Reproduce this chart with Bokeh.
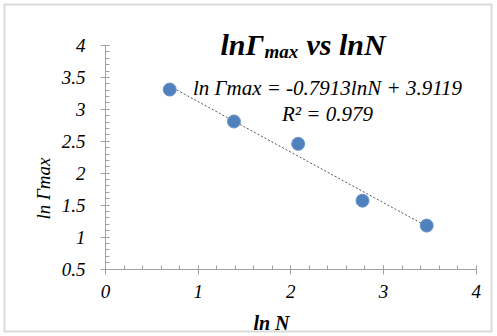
import numpy as np
from bokeh.plotting import figure
from bokeh.models import (Range1d, SingleIntervalTicker, NumeralTickFormatter,
                          Label, BoxAnnotation, ColumnDataSource, LinearAxis)
from bokeh.embed import file_html
from bokeh.resources import INLINE

# ---- data ----
ln_n = [0.693, 1.386, 2.079, 2.773, 3.466]
ln_gamma_max = [3.31, 2.81, 2.46, 1.57, 1.18]
fit_slope = -0.7913
fit_intercept = 3.9119
r_squared = 0.979
x_axis_bounds = (0, 4)
y_axis_bounds = (0.5, 4)
x_tick_interval = 1
y_tick_interval = 0.5

SERIF = "Liberation Serif"
AXIS_GRAY = "#a0a0a0"

# ---- layout: canvas is the whole chart, axes drawn at fixed positions ----
W, H = 497, 336
PX_LEFT, PX_RIGHT = 105.0, 475.7    # pixel of x = 0 and x = 4
PX_TOP, PX_BOTTOM = 45.0, 268.5     # pixel of y = 4 and y = 0.5
sx = (PX_RIGHT - PX_LEFT) / (x_axis_bounds[1] - x_axis_bounds[0])
sy = (PX_BOTTOM - PX_TOP) / (y_axis_bounds[1] - y_axis_bounds[0])
xr = Range1d(x_axis_bounds[0] - PX_LEFT / sx, x_axis_bounds[1] + (W - PX_RIGHT) / sx)
yr = Range1d(y_axis_bounds[0] - (H - PX_BOTTOM) / sy, y_axis_bounds[1] + PX_TOP / sy)

p = figure(width=W, height=H, output_backend="svg", toolbar_location=None,
           x_range=xr, y_range=yr, x_axis_location=None, y_axis_location=None,
           min_border=0)
p.outline_line_color = None
p.grid.visible = False
p.background_fill_color = "white"
p.border_fill_color = "white"

xaxis = LinearAxis(fixed_location=y_axis_bounds[0], bounds=x_axis_bounds)
yaxis = LinearAxis(fixed_location=x_axis_bounds[0], bounds=y_axis_bounds)
p.add_layout(xaxis, "below")
p.add_layout(yaxis, "left")

for ax, interval in ((xaxis, x_tick_interval), (yaxis, y_tick_interval)):
    ax.ticker = SingleIntervalTicker(interval=interval, num_minor_ticks=5)
    ax.formatter = NumeralTickFormatter(format="0.[0]")
    ax.axis_line_color = AXIS_GRAY
    ax.major_tick_line_color = AXIS_GRAY
    ax.minor_tick_line_color = AXIS_GRAY
    ax.major_tick_out = 5
    ax.major_tick_in = 4
    ax.minor_tick_out = 0
    ax.minor_tick_in = 4
    ax.major_label_text_font = SERIF
    ax.major_label_text_font_style = "italic"
    ax.major_label_text_font_size = "19px"
    ax.major_label_text_color = "black"
xaxis.major_label_standoff = 11
yaxis.major_label_standoff = 15

# trendline from the fit coefficients
tx = np.array([min(ln_n), max(ln_n)])
ty = fit_intercept + fit_slope * tx
p.line(tx, ty, line_color="#555555", line_width=1, line_dash="2 2")

src = ColumnDataSource(dict(x=ln_n, y=ln_gamma_max))
p.scatter("x", "y", source=src, size=13, fill_color="#4f81bd",
          line_color="#6a94c8", line_width=1)

def lab(text, x, y, size, style="italic", align="left", baseline="alphabetic", angle=0):
    p.add_layout(Label(x=x, y=y, x_units="canvas", y_units="canvas", text=text,
                       text_font=SERIF, text_font_style=style,
                       text_font_size=size, text_align=align,
                       text_baseline=baseline, angle=angle, text_color="black"))

# title with subscript
lab("lnΓ", 220, 44, "30px", style="bold italic")
lab("max", 264, 51, "19px", style="bold italic")
lab("vs lnN", 306, 44, "30px", style="bold italic")

# equation
lab("ln Γmax = %.4flnN + %.4f" % (fit_slope, fit_intercept), 327, 87, "21px", align="center")
lab("R² = %.3f" % r_squared, 327, 113, "21px", align="center")

# axis titles
lab("ln N", 271, 322, "20px", style="bold italic", align="center")
lab("ln Γmax", 43, 188, "19px", align="center", baseline="middle", angle=np.pi / 2)

# outer chart border
p.add_layout(BoxAnnotation(left=4, right=491, top=4, bottom=331,
                           left_units="canvas", right_units="canvas",
                           top_units="canvas", bottom_units="canvas",
                           fill_alpha=0, line_color="#868686", line_width=2))

open("out.html", "w").write(file_html(p, INLINE))
